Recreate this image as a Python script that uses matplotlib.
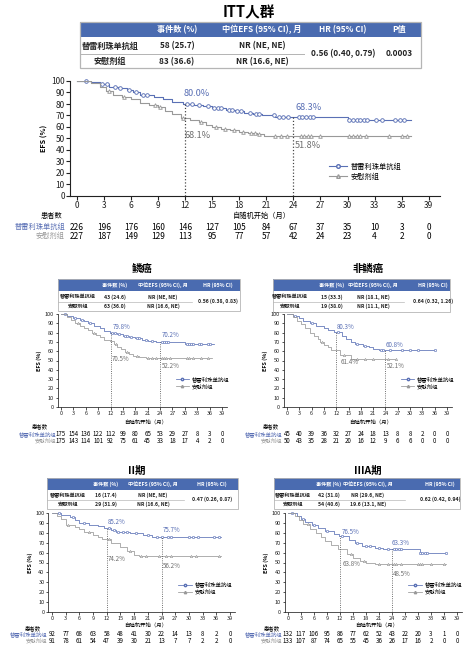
import numpy as np
import matplotlib
matplotlib.use("Agg")
import matplotlib.pyplot as plt
from matplotlib.patches import Rectangle
from matplotlib.lines import Line2D
import matplotlib.transforms as mtransforms

plt.rcParams['font.family'] = ['Noto Sans CJK SC', 'DejaVu Sans']

BLUE = '#5a70b5'
GREY = '#999999'
HEAD = '#4a6bb0'
arms = ['替雷利珠单抗组', '安慰剂组']
months = list(range(0, 40, 3))

# ---------------- data ----------------
itt_blue_t = [0, 1.5, 2.5, 3.5, 4.5, 5.5, 6.2, 7.0, 8.5, 9.5, 10.5, 11.8, 13.0, 14.0, 15.0, 16.5, 17.5, 18.5, 19.5, 20.5, 22.0, 23.0, 30.0, 37.0]
itt_blue_s = [100, 99, 97, 95, 94, 92, 90, 88, 86, 84, 82, 80.0, 79, 78, 76.5, 75, 73.5, 72, 71, 70, 69, 68.3, 66.5, 66.5]
itt_grey_t = [0, 1.5, 2.5, 3.2, 4.0, 5.0, 6.0, 7.0, 8.0, 9.0, 9.8, 10.5, 11.5, 12.5, 13.5, 14.3, 15.0, 16.0, 17.0, 18.0, 19.0, 20.0, 20.7, 37.0]
itt_grey_s = [100, 98, 95, 91, 88, 86, 84, 81, 79, 77, 74, 71, 68.1, 66, 64, 62, 60, 58.5, 57, 56, 55, 53.5, 51.8, 51.8]
itt_blue_cens = [1.0, 2.8, 3.3, 4.2, 4.8, 5.8, 6.5, 7.3, 7.8, 12.2, 12.8, 13.5, 14.5, 15.2, 15.6, 16.0, 16.8, 17.2, 17.7, 18.2, 19.2, 19.8, 20.2, 21.8, 22.4, 22.8, 23.4, 24.6, 25.0, 25.4, 25.8, 26.2, 30.2, 30.6, 31.0, 31.4, 31.8, 32.2, 33.2, 33.8, 35.3, 35.8, 36.3]
itt_grey_cens = [3.6, 5.2, 8.6, 9.2, 11.8, 13.8, 15.4, 16.4, 17.4, 18.4, 19.3, 19.7, 20.2, 22.0, 22.6, 23.3, 24.8, 25.2, 25.6, 26.0, 27.0, 30.2, 30.6, 31.0, 31.4, 32.0, 34.6, 36.0, 36.6]
itt_risk_blue = [226, 196, 176, 160, 146, 127, 105, 84, 67, 37, 35, 10, 3, 0]
itt_risk_grey = [227, 187, 149, 129, 113, 95, 77, 57, 42, 24, 23, 4, 2, 0]
itt_events = ['58 (25.7)', '83 (36.6)']
itt_median = ['NR (NE, NE)', 'NR (16.6, NE)']
itt_hr = '0.56 (0.40, 0.79)'
itt_p = '0.0003'
itt_marks = ['80.0%', '68.3%', '68.1%', '51.8%']

sq_blue_t = [0, 1.5, 3.0, 4.5, 5.5, 6.5, 8.0, 9.5, 10.5, 11.8, 13.5, 15.0, 16.5, 18.0, 19.5, 21.0, 23.0, 30.0, 37.0]
sq_blue_s = [100, 98, 96, 94, 92, 90, 87, 85, 82, 79.8, 78, 76.5, 75, 74, 72.5, 71.5, 70.2, 68, 68]
sq_grey_t = [0, 1.5, 2.5, 3.5, 4.5, 5.5, 6.5, 7.5, 8.5, 9.5, 10.5, 11.8, 12.8, 13.5, 14.5, 15.5, 16.5, 17.5, 19.0, 20.5, 36.5]
sq_grey_s = [100, 97, 94, 90, 87, 85, 83, 80, 77, 75, 72, 70.5, 68, 65, 62, 59, 57, 55, 53.5, 52.2, 52.2]
sq_blue_cens = [1, 3.5, 5, 7, 12.3, 13, 14, 15.5, 16, 17, 18.5, 19, 20.5, 22, 24.5, 25, 25.5, 26, 30.5, 31, 31.5, 32, 33.5, 34, 35.5, 36]
sq_grey_cens = [4, 8, 13.3, 16, 18.5, 21, 22, 23, 24.5, 25, 25.5, 26.5, 30.5, 31, 32, 34, 35.5]
sq_risk_blue = [175, 154, 136, 122, 112, 99, 80, 65, 53, 29, 27, 8, 3, 0]
sq_risk_grey = [175, 143, 114, 101, 92, 75, 61, 45, 33, 18, 17, 4, 2, 0]
sq_events = ['43 (24.6)', '63 (36.0)']
sq_median = ['NR (NE, NE)', 'NR (16.6, NE)']
sq_hr = '0.56 (0.38, 0.83)'
sq_marks = ['79.8%', '70.2%', '70.5%', '52.2%']

nsq_blue_t = [0, 1.5, 3.0, 4.0, 5.5, 7.0, 9.0, 10.0, 11.5, 13.5, 14.5, 15.5, 16.5, 18.5, 20.0, 21.0, 22.5, 36.0]
nsq_blue_s = [100, 98, 96, 93, 90, 87, 85, 83, 80.3, 76, 73, 70, 67.5, 66, 64, 62, 60.8, 60.8]
nsq_grey_t = [0, 1.5, 2.5, 3.5, 4.5, 5.5, 6.5, 7.5, 8.0, 9.0, 10.0, 10.7, 13.0, 15.5, 26.5]
nsq_grey_s = [100, 97, 93, 89, 85, 80, 76, 73, 70, 67, 64, 61.4, 56, 52.1, 52.1]
nsq_blue_cens = [2, 6, 12.5, 17, 19, 22.8, 23.5, 25, 28, 30, 32, 36]
nsq_grey_cens = [8.5, 14, 17, 19, 21, 24.5, 26.5]
nsq_risk_blue = [45, 40, 39, 36, 32, 27, 24, 18, 13, 8, 8, 2, 0, 0]
nsq_risk_grey = [50, 43, 35, 28, 21, 20, 16, 12, 9, 6, 6, 0, 0, 0]
nsq_events = ['15 (33.3)', '19 (38.0)']
nsq_median = ['NR (18.1, NE)', 'NR (11.1, NE)']
nsq_hr = '0.64 (0.32, 1.26)'
nsq_marks = ['80.3%', '60.8%', '61.4%', '52.1%']

s2_blue_t = [0, 2.0, 4.0, 5.0, 6.0, 8.0, 10.0, 11.5, 13.0, 14.0, 17.0, 20.0, 22.0, 37.0]
s2_blue_s = [100, 98, 96, 93, 90, 88, 86.5, 85.2, 83, 81, 80, 78, 75.7, 75.7]
s2_grey_t = [0, 1.0, 2.0, 3.0, 5.0, 6.0, 7.0, 9.0, 10.0, 11.0, 13.0, 15.0, 16.5, 18.0, 19.0, 37.0]
s2_grey_s = [100, 97, 94, 88, 86, 84, 81, 78, 76, 74.2, 70, 66, 62, 58, 56.2, 56.2]
s2_blue_cens = [1.5, 4.5, 7, 12.5, 13.5, 14.5, 15.5, 16.5, 18.5, 21, 23, 24, 25.5, 26, 30, 31, 32, 35.5, 36.5]
s2_grey_cens = [3.5, 8, 12.5, 17, 19.5, 20.5, 23.5, 25, 26, 30.5, 31.5, 36.5]
s2_risk_blue = [92, 77, 68, 63, 58, 48, 41, 30, 22, 14, 13, 8, 2, 0]
s2_risk_grey = [91, 78, 61, 54, 47, 39, 30, 21, 13, 7, 7, 2, 2, 0]
s2_events = ['16 (17.4)', '29 (31.9)']
s2_median = ['NR (NE, NE)', 'NR (16.6, NE)']
s2_hr = '0.47 (0.26, 0.87)'
s2_marks = ['85.2%', '75.7%', '74.2%', '56.2%']

s3_blue_t = [0, 2.0, 3.0, 4.0, 5.5, 7.0, 8.5, 10.5, 11.8, 14.0, 15.5, 17.0, 20.0, 22.0, 30.5, 36.5]
s3_blue_s = [100, 97, 94, 91, 88, 85, 82, 79, 76.5, 73, 70, 67, 65, 63.3, 60, 60]
s3_grey_t = [0, 1.5, 2.5, 3.5, 5.0, 6.5, 7.5, 8.5, 10.0, 11.5, 13.5, 15.0, 16.5, 18.0, 20.0, 36.5]
s3_grey_s = [100, 97, 93, 89, 84, 80, 76, 72, 68, 63.8, 59, 55, 52, 50, 48.5, 48.5]
s3_blue_cens = [1, 3.5, 6, 9, 12.5, 16, 18, 19, 21, 23, 24.5, 25, 25.5, 26, 30.5, 31, 31.5, 32, 36.5]
s3_grey_cens = [4.5, 14.5, 17.5, 21, 23, 24.5, 25, 26, 30, 30.5, 31, 33, 36]
s3_risk_blue = [132, 117, 106, 95, 86, 77, 62, 52, 43, 22, 20, 3, 1, 0]
s3_risk_grey = [133, 107, 87, 74, 65, 55, 45, 36, 26, 17, 16, 2, 0, 0]
s3_events = ['42 (31.8)', '54 (40.6)']
s3_median = ['NR (29.6, NE)', '19.6 (13.1, NE)']
s3_hr = '0.62 (0.42, 0.94)'
s3_marks = ['76.5%', '63.3%', '63.8%', '48.5%']

# ---------------- figure ----------------
W, H = 474, 651
fig = plt.figure(figsize=(W / 100, H / 100), dpi=100)
bg = fig.add_axes([0, 0, 1, 1])
bg.set_xlim(0, W)
bg.set_ylim(H, 0)
bg.axis('off')


def fy(py):
    return 1 - py / H


def step_at(t, s, x):
    idx = np.searchsorted(t, x, side='right') - 1
    return np.asarray(s)[idx]


def table(x0, x1, y0, yh, ysep, y2, rows_y, cols, header, events, median, hr, p=None, fs=7, lw=0.8):
    # header band + frame
    bg.add_patch(Rectangle((x0, y0), x1 - x0, yh - y0, color=HEAD, lw=0))
    bg.add_patch(Rectangle((x0, y0), x1 - x0, y2 - y0, fill=False, ec='#b5b5b5', lw=lw))
    split_x = (cols[2] + cols[3]) / 2 + (cols[3] - cols[2]) * 0.02
    bg.plot([x0, split_x], [ysep, ysep], color='#b5b5b5', lw=lw * 0.8)
    for cx, h in zip(cols[1:], header):
        bg.text(cx, (y0 + yh) / 2, h, ha='center', va='center', color='white',
                fontsize=fs, fontweight='bold')
    for r, yy in enumerate(rows_y):
        bg.text(cols[0], yy, arms[r], ha='center', va='center', color='#222222', fontsize=fs, fontweight='bold')
        bg.text(cols[1], yy, events[r], ha='center', va='center', color='#222222', fontsize=fs, fontweight='bold')
        bg.text(cols[2], yy, median[r], ha='center', va='center', color='#222222', fontsize=fs, fontweight='bold')
    bg.text(cols[3], ysep, hr, ha='center', va='center', color='#222222', fontsize=fs, fontweight='bold')
    if p is not None:
        bg.text(cols[4], ysep, p, ha='center', va='center', color='#222222', fontsize=fs, fontweight='bold')


def km_panel(px, py, curves, cens, risk, marks, mark_pos, rows_py, label_x, fs, ms, leg_anchor,
             lw=0.8, fs_lab=None, fs_num=None, fs_ann=None):
    fs_lab = fs_lab or fs
    fs_num = fs_num or fs
    fs_ann = fs_ann or fs
    x0px, x39px = px
    ppm = (x39px - x0px) / 39
    left = x0px - 0.8 * ppm
    right = x0px + 40.2 * ppm
    top, bot = py
    ax = fig.add_axes([left / W, fy(bot), (right - left) / W, (bot - top) / H])
    ax.set_xlim(-0.8, 40.2)
    ax.set_ylim(0, 100)
    ax.patch.set_alpha(0)
    for sp in ['top', 'right']:
        ax.spines[sp].set_visible(False)
    for sp in ['left', 'bottom']:
        ax.spines[sp].set_linewidth(lw)
        ax.spines[sp].set_color('#222222')
    ax.set_xticks(months)
    ax.set_yticks(range(0, 101, 10))
    ax.tick_params(labelsize=fs, length=fs * 0.45, width=lw, pad=1, colors='#222222')
    ax.set_ylabel('EFS (%)', fontsize=fs_lab, fontweight='bold', labelpad=2)

    colors = [BLUE, GREY]
    mk = ['o', '^']
    for (t, s), c, col, m in zip(curves, cens, colors, mk):
        ax.step(t, s, where='post', color=col, lw=lw)
        ax.plot(c, step_at(t, s, c), ls='none', marker=m, ms=ms, mfc='white', mec=col,
                mew=lw * 0.8, clip_on=False)

    # landmark lines at 12 and 24 months
    for xm in [12, 24]:
        yb = step_at(curves[0][0], curves[0][1], xm)
        ax.plot([xm, xm], [0, yb], ls=':', color='#444444', lw=lw * 1.1)
    cols_txt = [BLUE, BLUE, '#6e6e6e', '#6e6e6e']
    for txt, (xx, yy), c in zip(marks, mark_pos, cols_txt):
        ax.text(xx, yy, txt, color=c, fontsize=fs_ann, ha='left', va='center')

    trans = mtransforms.blended_transform_factory(ax.transData, fig.transFigure)
    xl_py, hd_py, r1_py, r2_py = rows_py
    ax.text(20.5, fy(xl_py), '自随机开始（月）', transform=trans, ha='center', va='center', fontsize=fs_lab)
    lab_r, lab_hd = label_x
    fig.text(lab_hd / W, fy(hd_py), '患者数', ha='center', va='center', fontsize=fs_lab)
    fig.text(lab_r / W, fy(r1_py), arms[0], ha='right', va='center', fontsize=fs_lab, color=BLUE)
    fig.text(lab_r / W, fy(r2_py), arms[1], ha='right', va='center', fontsize=fs_lab, color=GREY)
    for m, a, b in zip(months, risk[0], risk[1]):
        ax.text(m, fy(r1_py), str(a), transform=trans, ha='center', va='center', fontsize=fs_num)
        ax.text(m, fy(r2_py), str(b), transform=trans, ha='center', va='center', fontsize=fs_num)

    handles = [Line2D([], [], color=BLUE, marker='o', mfc='white', ms=ms, lw=lw),
               Line2D([], [], color=GREY, marker='^', mfc='white', ms=ms, lw=lw)]
    ax.legend(handles, arms, loc='center left', bbox_to_anchor=leg_anchor, frameon=False,
              fontsize=fs_lab, handlelength=2.5, handletextpad=0.5, labelspacing=0.3, borderpad=0)
    return ax


hdr_full = ['事件数 (%)', '中位EFS (95% CI), 月', 'HR (95% CI)', 'P值']
hdr_sub = ['事件数 (%)', '中位EFS (95% CI), 月', 'HR (95% CI)']

# ---- ITT ----
bg.text(249, 12, 'ITT人群', ha='center', va='center', fontsize=10.5, fontweight='bold')
table(80, 421, 22, 37, 54, 68, [46, 61.5], [110, 177, 262, 343, 399], hdr_full,
      itt_events, itt_median, itt_hr, itt_p, fs=5.9, lw=0.9)
km_panel((77, 428.7), (81, 196),
         [(itt_blue_t, itt_blue_s), (itt_grey_t, itt_grey_s)],
         [itt_blue_cens, itt_grey_cens],
         [itt_risk_blue, itt_risk_grey], itt_marks,
         [(11.8, 89), (24.2, 77), (11.9, 53), (24.2, 43.5)],
         (215.5, 216, 227, 236), (65, 52), fs=6.0, ms=2.6, leg_anchor=(0.69, 0.21), lw=0.8,
         fs_lab=5.2, fs_num=6.0, fs_ann=6.6)

# ---- subgroups ----
sub_kw = dict(fs=4.0, ms=1.7, lw=0.55, fs_lab=3.9, fs_num=4.4, fs_ann=4.5)

bg.text(142, 269, '鳞癌', ha='center', va='center', fontsize=7.5, fontweight='bold')
table(58, 240, 279, 291, 301.5, 311, [297, 306.5], [78, 115, 163, 218], hdr_sub,
      sq_events, sq_median, sq_hr, fs=3.7, lw=0.6)
km_panel((61, 222), (314, 407),
         [(sq_blue_t, sq_blue_s), (sq_grey_t, sq_grey_s)],
         [sq_blue_cens, sq_grey_cens],
         [sq_risk_blue, sq_risk_grey], sq_marks,
         [(12.6, 86), (24.4, 77), (12.3, 52), (24.4, 44)],
         (422, 426, 434, 441), (56, 40), leg_anchor=(0.68, 0.26), **sub_kw)

bg.text(368, 269, '非鳞癌', ha='center', va='center', fontsize=7.5, fontweight='bold')
table(273, 450, 279, 291, 301.5, 312, [297, 306.5], [290, 332, 373, 433], hdr_sub,
      nsq_events, nsq_median, nsq_hr, fs=3.7, lw=0.6)
km_panel((287, 447), (314, 407),
         [(nsq_blue_t, nsq_blue_s), (nsq_grey_t, nsq_grey_s)],
         [nsq_blue_cens, nsq_grey_cens],
         [nsq_risk_blue, nsq_risk_grey], nsq_marks,
         [(12.2, 86), (24.0, 67), (13.0, 48), (24.4, 44)],
         (422, 426, 434, 441), (282, 271), leg_anchor=(0.68, 0.26), **sub_kw)

bg.text(137, 471, 'II期', ha='center', va='center', fontsize=7.5, fontweight='bold')
table(47, 238, 478, 490, 499.5, 509, [495.5, 504], [68, 106, 153, 212], hdr_sub,
      s2_events, s2_median, s2_hr, fs=3.7, lw=0.6)
km_panel((52, 230), (513, 612),
         [(s2_blue_t, s2_blue_s), (s2_grey_t, s2_grey_s)],
         [s2_blue_cens, s2_grey_cens],
         [s2_risk_blue, s2_risk_grey], s2_marks,
         [(12.3, 91), (24.2, 83), (12.3, 54), (24.2, 46)],
         (625, 628, 634, 641), (47, 33), leg_anchor=(0.68, 0.24), **sub_kw)

bg.text(368, 471, 'IIIA期', ha='center', va='center', fontsize=7.5, fontweight='bold')
table(274, 460, 478, 490, 499.5, 509, [495.5, 504], [293, 329, 368, 440], hdr_sub,
      s3_events, s3_median, s3_hr, fs=3.7, lw=0.6)
km_panel((288, 457), (513, 612),
         [(s3_blue_t, s3_blue_s), (s3_grey_t, s3_grey_s)],
         [s3_blue_cens, s3_grey_cens],
         [s3_risk_blue, s3_risk_grey], s3_marks,
         [(12.5, 81), (24.0, 70), (12.5, 48.5), (24.2, 38)],
         (625, 628, 634, 641), (282, 272), leg_anchor=(0.68, 0.24), **sub_kw)

fig.savefig('out.png', dpi=100)
